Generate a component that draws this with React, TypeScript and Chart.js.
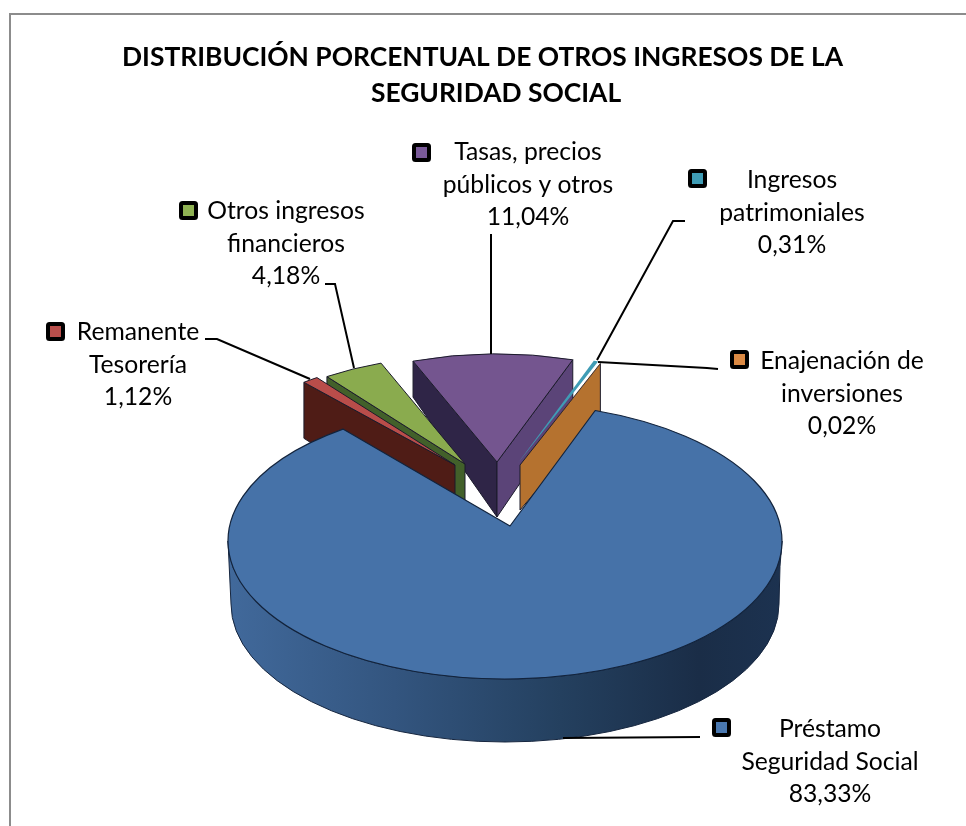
import React, { useEffect, useRef } from "react";
import { Chart, registerables } from "chart.js";

Chart.register(...registerables);

const categories = [
  "Préstamo Seguridad Social",
  "Remanente Tesorería",
  "Otros ingresos financieros",
  "Tasas, precios públicos y otros",
  "Ingresos patrimoniales",
  "Enajenación de inversiones",
];
const shares = [83.33, 1.12, 4.18, 11.04, 0.31, 0.02];
const shareLabels = ["83,33%", "1,12%", "4,18%", "11,04%", "0,31%", "0,02%"];
const labelLines = [
  ["Préstamo", "Seguridad Social"],
  ["Remanente", "Tesorería"],
  ["Otros ingresos", "financieros"],
  ["Tasas, precios", "públicos y otros"],
  ["Ingresos", "patrimoniales"],
  ["Enajenación de", "inversiones"],
];
const titleLines = ["DISTRIBUCIÓN PORCENTUAL DE OTROS INGRESOS DE LA", "SEGURIDAD SOCIAL"];

const FILL = ["#4672a8", "#b94d4a", "#8aab4e", "#74558f", "#3f9cb5", "#c77f3a"];
const KEY_FILL = ["#4a78b0", "#b94f4c", "#8fb253", "#7a5a99", "#3f9cb5", "#dc8a44"];
const EDGE = "#1b1b2b";

const FONT = "Lato";
const BODY_SIZE = 24.7;
const TITLE_SIZE = 26.4;
const LINE_STEP = 32.6;

// Exploded wedges are drawn with one flattened radius from their own apex.
const EXPLODED_RX = 235;
const EXPLODED_RY = 108;
const wedgeLayout: Record<number, any> = {
  3: { ax: 497, ay: 462, faces: [
    { edge: "start", color: "#2f2547", near: 55, far: 36 },
    { edge: "end", color: "#5b4478", near: 55, far: 46 },
  ] },
  4: { ax: 518, ay: 463, faces: [] },
  5: { ax: 520, ay: 465, faces: [{ edge: "end", color: "#b5722f", near: 45, far: 52 }] },
  2: { ax: 465, ay: 464, faces: [{ edge: "start", color: "#42602a", near: 50, far: 40 }] },
  1: { ax: 455, ay: 465, faces: [{ edge: "start", color: "#4f1c16", near: 70, far: 56 }] },
};
const drawOrder = [3, 4, 5, 2, 1];

const MAIN = { ax: 510, ay: 526, cx: 505, cy: 541, rx: 277, ry: 138, depth: 63, startAdj: -1, endAdj: 4.2 };

const labelLayout = [
  { cx: 830, y: 729, key: [712, 718] },
  { cx: 138, y: 332, key: [46, 322] },
  { cx: 286, y: 211, key: [179, 201] },
  { cx: 528, y: 152, key: [412, 143] },
  { cx: 792, y: 180, key: [688, 169] },
  { cx: 842, y: 361, key: [730, 350] },
];
const leaderLayout = [
  [[700, 737], [563, 738]],
  [[205, 339], [217, 339], [310, 379]],
  [[325, 284], [335, 284], [354, 368]],
  [[491, 234], [491, 354]],
  [[685, 221], [673, 221], [597, 360]],
  [[718, 369], [707, 368], [598, 362]],
];

const rad = (d: number) => (d * Math.PI) / 180;

function drawWedge(ctx: CanvasRenderingContext2D, el: any, i: number) {
  const l = wedgeLayout[i];
  const at = (a: number) => [l.ax + EXPLODED_RX * Math.cos(a), l.ay + EXPLODED_RY * Math.sin(a)];
  ctx.lineWidth = 1;
  ctx.strokeStyle = EDGE;
  for (const f of l.faces) {
    const [px, py] = at(f.edge === "start" ? el.startAngle : el.endAngle);
    ctx.beginPath();
    ctx.moveTo(l.ax, l.ay);
    ctx.lineTo(px, py);
    ctx.lineTo(px, py + f.far);
    ctx.lineTo(l.ax, l.ay + f.near);
    ctx.closePath();
    ctx.fillStyle = f.color;
    ctx.fill();
    ctx.stroke();
  }
  ctx.beginPath();
  ctx.moveTo(l.ax, l.ay);
  ctx.ellipse(l.ax, l.ay, EXPLODED_RX, EXPLODED_RY, 0, el.startAngle, el.endAngle);
  ctx.closePath();
  ctx.fillStyle = FILL[i];
  ctx.fill();
  if (el.endAngle - el.startAngle > 0.03) ctx.stroke();
}

function drawMain(ctx: CanvasRenderingContext2D, el: any) {
  const { ax, ay, cx, cy, rx, ry, depth } = MAIN;
  const grad = ctx.createLinearGradient(cx - rx, 0, cx + rx, 0);
  grad.addColorStop(0, "#41699b");
  grad.addColorStop(0.3, "#33557f");
  grad.addColorStop(0.6, "#24405f");
  grad.addColorStop(0.85, "#1a2d47");
  grad.addColorStop(1, "#1c3250");
  ctx.beginPath();
  ctx.ellipse(cx, cy, rx, ry, 0, Math.PI, 0, true);
  ctx.lineTo(cx + rx - 2, cy + depth * 0.4);
  ctx.ellipse(cx, cy + depth, rx - 3, ry, 0, 0, Math.PI);
  ctx.closePath();
  ctx.fillStyle = grad;
  ctx.fill();
  ctx.lineWidth = 1;
  ctx.strokeStyle = "#16263f";
  ctx.stroke();

  ctx.beginPath();
  ctx.moveTo(ax, ay);
  ctx.ellipse(cx, cy, rx, ry, 0, el.startAngle + rad(MAIN.startAdj), el.endAngle + rad(MAIN.endAdj));
  ctx.closePath();
  ctx.fillStyle = FILL[0];
  ctx.fill();
  ctx.lineWidth = 1.2;
  ctx.strokeStyle = "#12233c";
  ctx.stroke();
}

const pie3d = {
  id: "pie3d",
  beforeDatasetsDraw(chart: any) {
    const ctx: CanvasRenderingContext2D = chart.ctx;
    const arcs = chart.getDatasetMeta(0).data;
    ctx.save();
    ctx.lineJoin = "round";
    drawOrder.forEach((i) => drawWedge(ctx, arcs[i], i));
    drawMain(ctx, arcs[0]);
    ctx.restore();
    return false;
  },
  afterDraw(chart: any) {
    const ctx: CanvasRenderingContext2D = chart.ctx;
    ctx.save();
    // Frame: only the top and left rules exist in the picture.
    ctx.strokeStyle = "#8c8c8c";
    ctx.lineWidth = 2;
    ctx.beginPath();
    ctx.moveTo(966, 14);
    ctx.lineTo(10, 14);
    ctx.lineTo(10, 826);
    ctx.stroke();

    ctx.textAlign = "center";
    ctx.textBaseline = "middle";
    ctx.fillStyle = "#000";
    ctx.font = `bold ${TITLE_SIZE}px ${FONT}`;
    ctx.fillText(titleLines[0], 482.5, 57);
    ctx.fillText(titleLines[1], 496, 93);

    ctx.strokeStyle = "#000";
    ctx.lineWidth = 2;
    ctx.lineJoin = "miter";
    leaderLayout.forEach((pts) => {
      ctx.beginPath();
      pts.forEach(([x, y], k) => (k ? ctx.lineTo(x, y) : ctx.moveTo(x, y)));
      ctx.stroke();
    });

    ctx.font = `${BODY_SIZE}px ${FONT}`;
    categories.forEach((_, i) => {
      const l = labelLayout[i];
      [...labelLines[i], shareLabels[i]].forEach((t, k) => {
        ctx.fillStyle = "#000";
        ctx.fillText(t, l.cx, l.y + k * LINE_STEP);
      });
      const [kx, ky] = l.key;
      ctx.beginPath();
      ctx.roundRect(kx + 2, ky + 2, 15, 15, 1.5);
      ctx.fillStyle = KEY_FILL[i];
      ctx.fill();
      ctx.lineWidth = 4;
      ctx.strokeStyle = "#000";
      ctx.stroke();
    });
    ctx.restore();
  },
};

export default function App() {
  const ref = useRef<HTMLCanvasElement>(null);
  useEffect(() => {
    const chart = new Chart(ref.current!, {
      type: "doughnut",
      data: {
        labels: categories,
        datasets: [{ data: shares, backgroundColor: FILL, borderWidth: 0 }],
      },
      options: {
        animation: false,
        responsive: false,
        rotation: 20,
        cutout: 0,
        plugins: { legend: { display: false }, tooltip: { enabled: false }, title: { display: false } },
      },
      plugins: [pie3d],
    } as any);
    return () => chart.destroy();
  }, []);
  return (
    <canvas
      ref={ref}
      width={966}
      height={826}
      style={{ position: "fixed", left: 0, top: 0, width: 966, height: 826, display: "block", background: "#fff" }}
    />
  );
}
